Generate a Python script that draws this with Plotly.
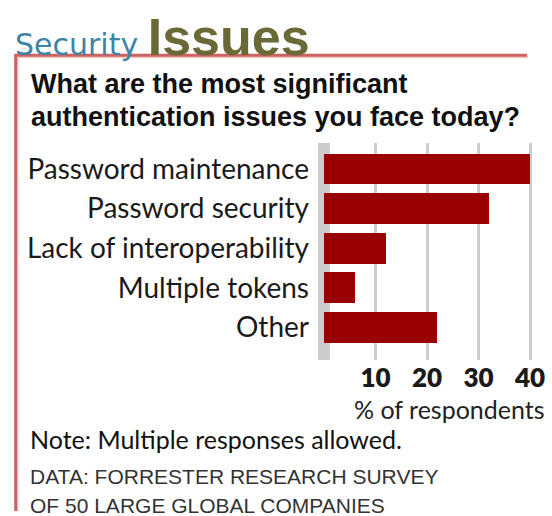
import plotly.graph_objects as go

# Survey results: share of respondents naming each authentication issue
categories = ["Password maintenance", "Password security", "Lack of interoperability",
              "Multiple tokens", "Other"]
values = [40, 32, 12, 6, 22]
tick_values = [10, 20, 30, 40]
tick_labels = ["10", "20", "30", "40"]

W, H = 552, 516
# plot area in pixels
PL, PR, PT, PB = 318, 545, 143, 360
X0_PX = 324.0          # pixel position of x = 0
X_SCALE = 5.2          # pixels per percentage point
PITCH = 39.6           # pixels between bar centres
FIRST_C, LAST_C = 169.0, 327.5


def px2x(px):
    return (px - PL) / (PR - PL)


def py2y(py):
    return (PB - py) / (PB - PT)


x_min = (PL - X0_PX) / X_SCALE
x_max = (PR - X0_PX) / X_SCALE
y_top = -(FIRST_C - PT) / PITCH
y_bot = (len(categories) - 1) + (PB - LAST_C) / PITCH

RED_LINE = "#cd6262"
PINK = "#f6c6c6"

fig = go.Figure()
fig.add_trace(go.Bar(
    x=values, y=categories, orientation="h",
    marker=dict(color="#990000", line=dict(width=0)),
    width=0.78, hoverinfo="skip",
))

shapes = [
    # grey base strip at zero
    dict(type="rect", xref="paper", yref="paper", x0=0, x1=px2x(330), y0=0, y1=1,
         fillcolor="#cccccc", line=dict(width=0), layer="below"),
    # frame rules
    dict(type="line", xref="paper", yref="paper", x0=px2x(12), x1=px2x(530),
         y0=py2y(57.3), y1=py2y(57.3), line=dict(color=PINK, width=2)),
    dict(type="line", xref="paper", yref="paper", x0=px2x(12), x1=px2x(529),
         y0=py2y(55.3), y1=py2y(55.3), line=dict(color=RED_LINE, width=3)),
    dict(type="line", xref="paper", yref="paper", x0=px2x(15), x1=px2x(15),
         y0=py2y(57), y1=py2y(511), line=dict(color=PINK, width=1.5)),
    dict(type="line", xref="paper", yref="paper", x0=px2x(13), x1=px2x(13),
         y0=py2y(54), y1=py2y(511), line=dict(color=RED_LINE, width=3)),
]


def note(text, x, y, size, family, color="#111111", xanchor="left", weight=None):
    f = dict(size=size, family=family, color=color)
    if weight:
        f["weight"] = weight
    return dict(text=text, x=px2x(x), y=py2y(y), xref="paper", yref="paper",
                xanchor=xanchor, yanchor="middle", showarrow=False, font=f)


annotations = [
    dict(text="<span style='font-family:DejaVu Sans;font-size:30px;color:#3d85a6'>Security</span>"
              " <span style='font-family:Liberation Sans;font-weight:bold;font-size:52px;color:#6b6936'>Issues</span>",
         x=px2x(10), y=py2y(68), xref="paper", yref="paper", xanchor="left", yanchor="bottom",
         showarrow=False, font=dict(size=30, family="DejaVu Sans")),
    note("What are the most significant", 26, 84, 27, "Liberation Sans", "#111111", weight=700),
    note("authentication issues you face today?", 26, 117, 27, "Liberation Sans", "#111111", weight=700),
    note("% of respondents", 549, 409, 25, "Lato", "#222222", xanchor="right"),
    note("Note: Multiple responses allowed.", 25, 439, 25, "Lato", "#111111"),
    note("DATA: FORRESTER RESEARCH SURVEY", 25, 476, 21, "Liberation Sans", "#333333"),
    note("OF 50 LARGE GLOBAL COMPANIES", 25, 505, 21, "Liberation Sans", "#333333"),
]

fig.update_layout(
    width=W, height=H,
    margin=dict(l=PL, r=W - PR, t=PT, b=H - PB, pad=0),
    paper_bgcolor="white", plot_bgcolor="white",
    showlegend=False, bargap=0,
    shapes=shapes, annotations=annotations,
    xaxis=dict(range=[x_min, x_max], tickvals=tick_values, ticktext=tick_labels,
               showgrid=True, gridcolor="#cccccc", gridwidth=3, zeroline=False,
               showline=False, ticks="", layer="below traces",
               tickfont=dict(family="Lato", size=26, color="#1a1a1a", weight=800)),
    yaxis=dict(type="category", categoryorder="array", categoryarray=categories,
               range=[y_bot, y_top], showgrid=False, zeroline=False, showline=False,
               ticks="", ticklabelstandoff=8,
               tickfont=dict(family="Lato", size=28, color="#1a1a1a")),
)

fig.write_html("out.html")
